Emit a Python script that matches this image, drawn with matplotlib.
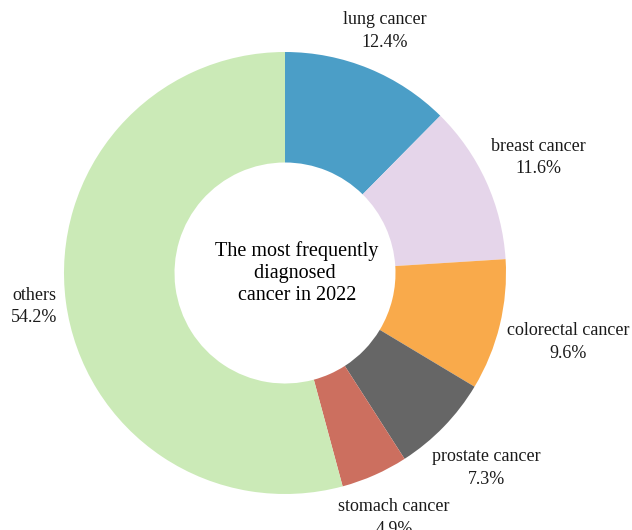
import matplotlib
matplotlib.use('Agg')
import matplotlib.pyplot as plt
import numpy as np

plt.rcParams['font.family'] = ['Liberation Serif', 'DejaVu Serif']

# data
cancers = ['lung cancer', 'breast cancer', 'colorectal cancer',
           'prostate cancer', 'stomach cancer', 'others']
shares = [12.4, 11.6, 9.6, 7.3, 4.9, 54.2]
colors = ['#4b9ec7', '#e5d5ea', '#f9aa4b', '#666666', '#cc6f5f', '#cbeab7']
center_text = 'The most frequently\ndiagnosed \ncancer in 2022'

W, H = 632, 530
cx, cy, R = 285, 273, 221   # pie centre / radius in pixels

fig = plt.figure(figsize=(W / 100, H / 100), dpi=100)
ax = fig.add_axes([0, 0, 1, 1])

labels = ['%s\n%.1f%%' % (c, s) for c, s in zip(cancers, shares)]
wedges, texts = ax.pie(shares, labels=labels, colors=colors, startangle=90,
                       counterclock=False, radius=1,
                       wedgeprops=dict(width=0.5, linewidth=0),
                       textprops=dict(fontsize=13, ha='center', va='center',
                                      color='#1a1a1a', linespacing=1.4))
ax.set_xlim(-cx / R, (W - cx) / R)
ax.set_ylim(-(H - cy) / R, cy / R)
ax.set_aspect('equal')
ax.axis('off')

# push each label out so its box just clears the ring
fig.canvas.draw()
renderer = fig.canvas.get_renderer()
for w, t in zip(wedges, texts):
    ang = np.deg2rad((w.theta1 + w.theta2) / 2)
    bb = t.get_window_extent(renderer)
    hw = bb.width / 2 / R
    hh = bb.height / 2 / R
    r = 1.03 + hw * abs(np.cos(ang)) + hh * abs(np.sin(ang))
    t.set_position((r * np.cos(ang), r * np.sin(ang)))
    t.set_horizontalalignment('center')
    t.set_verticalalignment('center')

ax.text(0.054, 0, center_text, ha='center', va='center', fontsize=14.5,
        linespacing=1.2, color='black')

fig.savefig('out.png', dpi=100)
